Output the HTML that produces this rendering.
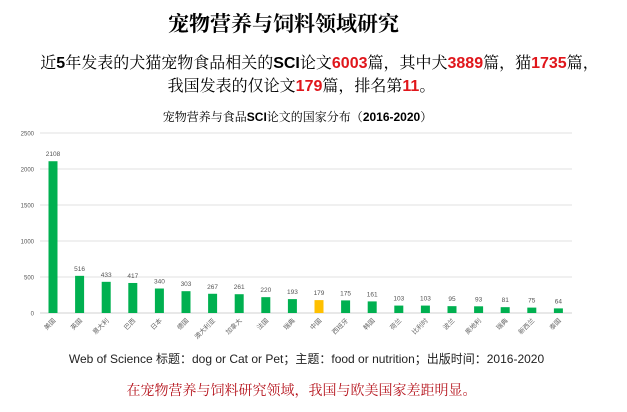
<!DOCTYPE html>
<html><head><meta charset="utf-8"><style>
body{margin:0;width:627px;height:412px;background:#fff;overflow:hidden;position:relative;font-family:"Liberation Serif","Noto Serif CJK SC",serif}
.t{position:absolute;left:0;width:627px;text-align:center;white-space:nowrap}
.r{color:#e0161b;font-family:"Liberation Sans","Noto Sans CJK SC",sans-serif;font-weight:bold}
</style></head><body>
<div class="t" style="top:8px;font-size:21px;font-weight:bold;left:-30px">宠物营养与饲料领域研究</div>
<div class="t" style="top:50px;font-size:16px;left:6px">近<b style="font-family:'Liberation Sans',sans-serif">5</b>年发表的犬猫宠物食品相关的<b style="font-family:'Liberation Sans',sans-serif">SCI</b>论文<span class="r">6003</span>篇，其中犬<span class="r">3889</span>篇，猫<span class="r">1735</span>篇，</div>
<div class="t" style="top:73px;font-size:16px;left:-12px">我国发表的仅论文<span class="r">179</span>篇，排名第<span class="r">11</span>。</div>
<div class="t" style="top:108px;font-size:12px;left:-16px">宠物营养与食品<b style="font-family:'Liberation Sans',sans-serif">SCI</b>论文的国家分布（<b style="font-family:'Liberation Sans',sans-serif">2016-2020</b>）</div>
<svg id="c" width="627" height="412" style="position:absolute;left:0;top:0"></svg>
<div class="t" style="top:350px;font-size:12px;left:-7px;font-family:'Liberation Sans','Noto Sans CJK SC',sans-serif;color:#222">Web of Science 标题：dog or Cat or Pet；主题：food or nutrition；出版时间：2016-2020</div>
<div class="t" style="top:380px;font-size:14px;left:-12px;color:#b5121b">在宠物营养与饲料研究领域，我国与欧美国家差距明显。</div>
<script>
const categories=["美国","英国","意大利","巴西","日本","德国","澳大利亚","加拿大","法国","瑞典","中国","西班牙","韩国","荷兰","比利时","波兰","奥地利","瑞典","新西兰","泰国"];
const values=[2108,516,433,417,340,303,267,261,220,193,179,175,161,103,103,95,93,81,75,64];
const ticks=[0,500,1000,1500,2000,2500];
const NS="http://www.w3.org/2000/svg",svg=document.getElementById('c');
const y0=313,ppu=180/2500,x0=53,dx=26.6;
const y=v=>y0-v*ppu, x=i=>x0+i*dx;
function mk(t,a,txt){const e=document.createElementNS(NS,t);for(const k in a)e.setAttribute(k,a[k]);if(txt!=null)e.textContent=txt;svg.appendChild(e);return e;}
ticks.forEach(t=>{
 const l=mk('line',{x1:40,x2:572,y1:y(t),y2:y(t),stroke:t?'#e2e2e2':'#d0d0d0','stroke-width':1});
 
 
 const tx=mk('text',{x:34,y:y(t)+2.5,'font-size':6,'text-anchor':'end',fill:'#555','font-family':'Liberation Sans'},t);
 
 
});
values.forEach((v,i)=>{
 const r=mk('rect',{x:x(i)-4.5,y:y(v),width:9,height:v*ppu,fill:categories[i]==='中国'?'#ffc000':'#00b050'});
 
 
 const l=mk('text',{x:x(i),y:y(v)-5,'font-size':6.5,'text-anchor':'middle',fill:'#555','font-family':'Liberation Sans'},v);
 
 
 const c=mk('text',{x:x(i)+3,y:y0+8,'font-size':6.5,'text-anchor':'end',fill:'#666','font-family':'Noto Sans CJK SC',transform:`rotate(-45 ${x(i)+3} ${y0+8})`},categories[i]);
 
 
});
</script>
</body></html>
